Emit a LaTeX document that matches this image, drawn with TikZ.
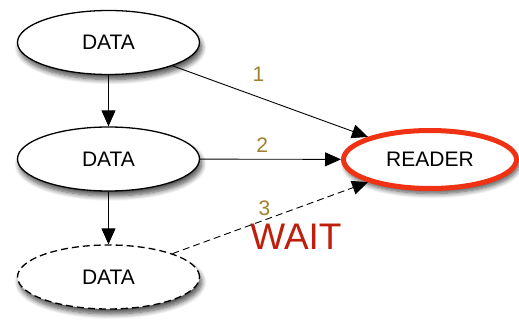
\documentclass[tikz,border=0pt]{standalone}
\usepackage{fontspec}
\setmainfont{Liberation Sans}
\usetikzlibrary{shapes.geometric, shadows.blur, arrows.meta}

\definecolor{readerred}{RGB}{240,50,20}
\definecolor{labelgold}{RGB}{160,128,48}
\definecolor{waitred}{RGB}{190,30,10}

\begin{document}
\begin{tikzpicture}[x=1pt, y=-1pt]
	% styles
	\tikzstyle{item} = [ellipse, draw, line width=1.3pt, fill=white, minimum width=182pt, minimum height=64pt, inner sep=0pt, font=\fontsize{21}{24}\selectfont, blur shadow={shadow xshift=2pt, shadow yshift=-5pt, shadow blur radius=5pt, shadow blur steps=8, shadow opacity=70}]
	\tikzstyle{num} = [inner sep=0pt, text=labelgold, font=\fontsize{21}{24}\selectfont]
	\tikzstyle{arrow} = [line width=0.9pt, -{Triangle[length=16pt, width=14pt]}]
	\tikzstyle{waiting} = [dash pattern=on 7pt off 4pt]
	\useasboundingbox (0,0) rectangle (519,320);

	% nodes
	\node [item] (data1) at (108.5,42.5) {DATA};
	\node [item] (data2) at (108.5,159) {DATA};
	\node [item, waiting] (data3) at (108.5,277) {DATA};
	\node [item, draw=readerred, line width=5pt, minimum width=173pt, minimum height=58pt] (reader) at (430,159.5) {READER};
	\node [text=waitred, font=\fontsize{37}{40}\selectfont, inner sep=0pt] (wait) at (296,237) {WAIT};

	% arrows
	\draw [arrow] (data1) -- (data2);
	\draw [arrow] (data2) -- (data3);
	\draw [arrow] (data1) -- node[num, pos=0.44, above=15pt] {1} (reader);
	\draw [arrow] (data2) -- node[num, pos=0.44, above=6pt] {2} (reader);
	\draw [arrow, waiting] (data3) -- node[num, pos=0.47, above=4pt] {3} (reader);
\end{tikzpicture}
\end{document}
